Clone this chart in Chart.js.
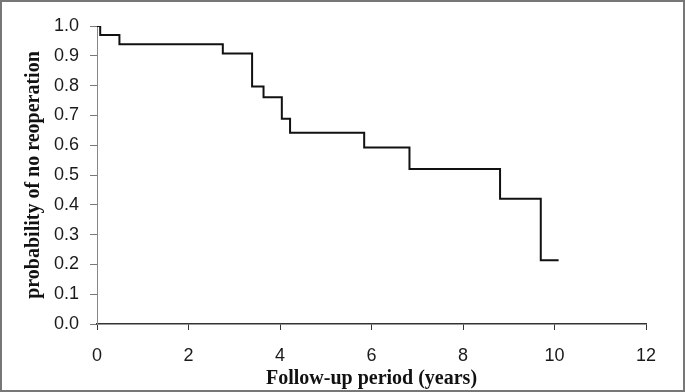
<!DOCTYPE html>
<html>
<head>
<meta charset="utf-8">
<script src="https://cdn.jsdelivr.net/npm/chart.js@4.4.0/dist/chart.umd.min.js"></script>
<style>
  html, body { margin: 0; padding: 0; background: #fff; }
  #wrap { position: relative; width: 685px; height: 392px; box-sizing: border-box; border: 2px solid #777; }
  canvas { position: absolute; left: -2px; top: -2px; }
</style>
</head>
<body>
<div id="wrap"><canvas id="chart" width="685" height="392"></canvas></div>
<script>
// Kaplan-Meier style curve
const times = [0, 0.07, 0.49, 2.75, 3.39, 3.64, 4.04, 4.22, 5.84, 6.83, 8.81, 9.70, 10.09];
const survival = [1.0, 0.97, 0.939, 0.908, 0.797, 0.761, 0.689, 0.642, 0.592, 0.52, 0.42, 0.214, 0.214];

const xTicks = [0, 2, 4, 6, 8, 10, 12];
const yTicks = [0, 0.1, 0.2, 0.3, 0.4, 0.5, 0.6, 0.7, 0.8, 0.9, 1.0];

const points = times.map((t, i) => ({ x: t, y: survival[i] }));

const tickFont = { family: 'Liberation Sans, Arial, sans-serif', size: 18 };
const titleFont = { family: 'Liberation Serif, Times New Roman, serif', size: 20, weight: 'bold' };

new Chart(document.getElementById('chart'), {
    type: 'scatter',
    data: {
        datasets: [{
            data: points,
            showLine: true,
            stepped: 'before',
            borderColor: '#111',
            borderWidth: 2,
            pointRadius: 0,
            fill: false
        }]
    },
    options: {
        responsive: false,
        animation: false,
        layout: { padding: { top: 26, right: 39, bottom: 1, left: 16 } },
        plugins: { legend: { display: false }, tooltip: { enabled: false } },
        scales: {
            x: {
                type: 'linear',
                min: 0,
                max: 12,
                afterBuildTicks: axis => { axis.ticks = xTicks.map(v => ({ value: v })); },
                afterFit: axis => { axis.height = 67; },
                grid: { drawOnChartArea: false, drawTicks: true, tickLength: 6, color: '#333' },
                border: { display: true, color: '#333', width: 1.5 },
                ticks: { color: '#1a1a1a', font: tickFont, padding: 15, maxRotation: 0 },
                title: { display: true, text: 'Follow-up period (years)', color: '#111', font: titleFont, padding: { top: 0, bottom: 0 } }
            },
            y: {
                min: 0,
                max: 1,
                afterBuildTicks: axis => { axis.ticks = yTicks.map(v => ({ value: v })); },
                afterFit: axis => { axis.width = 81; },
                grid: { drawOnChartArea: false, drawTicks: true, tickLength: 7, color: '#777' },
                border: { display: true, color: '#888', width: 1 },
                ticks: { color: '#1a1a1a', font: tickFont, padding: 11, callback: v => v.toFixed(1) },
                title: { display: true, text: 'probability of no reoperation', color: '#111', font: titleFont, padding: { top: 6, bottom: 0 } }
            }
        }
    }
});
</script>
</body>
</html>
